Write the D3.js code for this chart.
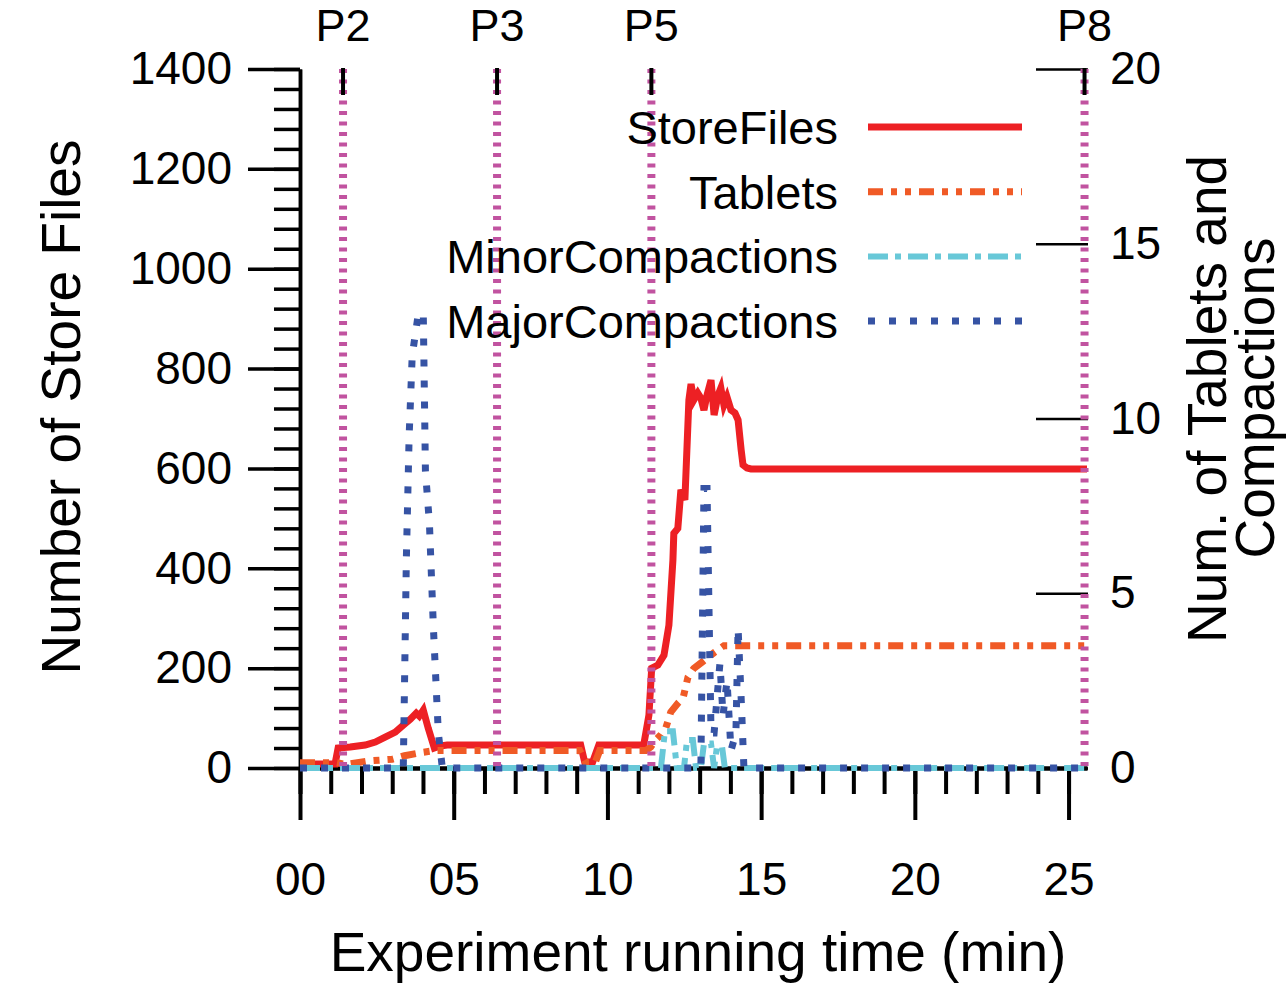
<!DOCTYPE html>
<html lang="en">
<head>
  <meta charset="UTF-8">
  <title>Store files, tablets and compactions</title>
  <script src="https://d3js.org/d3.v7.min.js"></script>
  <style>
    body { margin: 0; background: #fff; }
    text { font-family: "Liberation Sans", Arial, sans-serif; fill: #000; }
  </style>
</head>
<body>
  <script>
    // 1. Data (time in minutes)
    const storeFilesT = [0, 1.14, 1.24, 1.63, 2.12, 2.45, 2.77, 3.10, 3.36, 3.59, 3.78, 3.88, 4.01, 4.17, 4.37, 4.56, 4.79,
                         9.13, 9.26, 9.52, 9.72, 11.18, 11.35, 11.44, 11.64, 11.84, 12.00, 12.13, 12.16, 12.29, 12.39,
                         12.52, 12.65, 12.72, 12.81, 12.94, 13.04, 13.14, 13.24, 13.37, 13.47, 13.60, 13.69, 13.79,
                         13.89, 14.02, 14.15, 14.25, 14.35, 14.41, 14.54, 14.67, 25.6];
    const storeFilesV = [8, 8, 40, 42, 46, 52, 62, 72, 86, 98, 110, 104, 116, 80, 40, 44, 46,
                         46, 12, 12, 46, 46, 106, 200, 206, 226, 286, 416, 470, 480, 557,
                         537, 737, 769, 737, 751, 741, 717, 747, 777, 707, 747, 761, 727,
                         743, 717, 711, 697, 637, 607, 601, 599, 599];

    const tabletsT = [0, 1.2, 1.5, 2.2, 3.0, 3.4, 4.0, 4.4, 9.1, 9.3, 9.6, 9.75, 11.25, 11.41, 11.57, 11.74,
                      11.90, 12.06, 12.29, 12.46, 12.62, 12.81, 13.11, 13.47, 13.79, 25.6];
    const tabletsV = [0.15, 0.15, 0.1, 0.2, 0.25, 0.35, 0.45, 0.5, 0.5, 0.15, 0.15, 0.5, 0.5, 0.6, 0.8, 0.95,
                      1.15, 1.6, 1.85, 2.0, 2.6, 2.85, 3.05, 3.3, 3.5, 3.5];

    const minorT = [0, 11.74, 11.87, 12.13, 12.26, 12.49, 12.59, 12.78, 12.88, 13.04, 13.14, 13.37, 13.47,
                    13.56, 13.73, 13.82, 25.6];
    const minorV = [0, 0, 1.05, 1.05, 0, 0, 0.8, 0.8, 0, 0, 0.7, 0.7, 0, 0.6, 0.6, 0, 0];

    const majorT = [0, 3.36, 3.46, 3.55, 3.65, 3.85, 4.01, 4.08, 4.21, 4.34, 4.50, 4.63,
                    13.04, 13.14, 13.24, 13.37, 13.47, 13.66, 13.76, 13.89, 14.02, 14.18, 14.25, 14.35, 14.44, 25.6];
    const majorV = [0, 0, 6, 9.5, 11.8, 13, 13, 8.5, 7, 4, 1, 0,
                    0, 8, 8, 1, 1, 3, 1.5, 2.5, 0.5, 1, 4, 2, 0, 0];

    const phaseNames = ["P2", "P3", "P5", "P8"];
    const phaseTimes = [1.40, 6.41, 11.43, 25.52];

    const xTicks = [0, 5, 10, 15, 20, 25];
    const xTickLabels = ["00", "05", "10", "15", "20", "25"];
    const leftTicks = [0, 200, 400, 600, 800, 1000, 1200, 1400];
    const rightTicks = [0, 5, 10, 15, 20];

    const seriesNames = ["StoreFiles", "Tablets", "MinorCompactions", "MajorCompactions"];

    // 2. SVG
    const width = 1287, height = 985;
    const svg = d3.select("body").append("svg")
      .attr("width", width)
      .attr("height", height);

    // 3. Scales
    const x = d3.scaleLinear().domain([0, 25.6]).range([300, 1087]);
    const yL = d3.scaleLinear().domain([0, 1400]).range([768, 69]);
    const yR = d3.scaleLinear().domain([0, 20]).range([768, 69]);

    // 4. Axes
    function styleAxis(g, sw, fs) {
      g.attr("font-family", null).attr("font-size", fs);
      g.selectAll("line").attr("stroke", "#000").attr("stroke-width", sw);
      g.selectAll(".domain").attr("stroke", "#000").attr("stroke-width", sw);
      g.selectAll("text").attr("fill", "#000");
    }

    // left minor ticks
    svg.append("g").attr("transform", "translate(300,0)")
      .call(d3.axisLeft(yL).tickValues(d3.range(0, 1401, 40)).tickSize(26).tickSizeOuter(0).tickFormat(""))
      .call(g => styleAxis(g, 3.5, 46));
    svg.append("g").attr("transform", "translate(300,0)")
      .call(d3.axisLeft(yL).tickValues(leftTicks).tickSize(52).tickSizeOuter(0).tickPadding(16)
        .tickFormat(d3.format("d")))
      .call(g => styleAxis(g, 3.5, 46));

    // bottom minor + major
    svg.append("g").attr("transform", "translate(0,768)")
      .call(d3.axisBottom(x).tickValues(d3.range(0, 26, 1)).tickSize(26).tickSizeOuter(0).tickFormat(""))
      .call(g => styleAxis(g, 4, 46));
    svg.append("g").attr("transform", "translate(0,768)")
      .call(d3.axisBottom(x).tickValues(xTicks).tickSize(52).tickSizeOuter(0).tickPadding(42)
        .tickFormat((d, i) => xTickLabels[i]))
      .call(g => styleAxis(g, 4, 46));

    // right axis (ticks inward, labels outside)
    const right = svg.append("g").attr("transform", "translate(1036,0)")
      .call(d3.axisRight(yR).tickValues(rightTicks).tickSize(52).tickPadding(22))
      .call(g => styleAxis(g, 2.5, 46));
    right.select(".domain").remove();

    // 5. Series
    function pts(ts, vs) { return ts.map((t, i) => [t, vs[i]]); }
    const lineL = d3.line().x(d => x(d[0])).y(d => yL(d[1]));
    const lineR = d3.line().x(d => x(d[0])).y(d => yR(d[1]));

    const styles = [
      { color: "#ed2024", dash: null, w: 7 },
      { color: "#f05a26", dash: "15,8,6,8,6,8", w: 7 },
      { color: "#68c8d8", dash: "20,7,6,7", w: 6 },
      { color: "#3653a4", dash: "7,14", w: 7 }
    ];

    svg.append("path").datum(pts(storeFilesT, storeFilesV))
      .attr("fill", "none").attr("stroke", styles[0].color).attr("stroke-width", styles[0].w)
      .attr("d", lineL);
    [[tabletsT, tabletsV], [minorT, minorV], [majorT, majorV]].forEach((s, i) => {
      const st = styles[i + 1];
      svg.append("path").datum(pts(s[0], s[1]))
        .attr("fill", "none").attr("stroke", st.color).attr("stroke-width", st.w)
        .attr("stroke-dasharray", st.dash)
        .attr("d", lineR);
    });

    // 6. Phase markers
    const phases = svg.append("g");
    phaseTimes.forEach((t, i) => {
      phases.append("line")
        .attr("x1", x(t)).attr("x2", x(t)).attr("y1", yL(1400)).attr("y2", yL(0))
        .attr("stroke", "#c153a0").attr("stroke-width", 8).attr("stroke-dasharray", "4,6.5");
      phases.append("line")
        .attr("x1", x(t)).attr("x2", x(t)).attr("y1", yL(1400) - 1).attr("y2", 95)
        .attr("stroke", "#000").attr("stroke-width", 4);
      phases.append("text")
        .attr("x", x(t)).attr("y", 41).attr("text-anchor", "middle")
        .attr("font-size", 45).text(phaseNames[i]);
    });

    // 7. Legend
    const legend = svg.append("g");
    seriesNames.forEach((name, i) => {
      const cy = 127 + i * 64.7;
      legend.append("text")
        .attr("x", 838).attr("y", cy + 17).attr("text-anchor", "end")
        .attr("font-size", 47).text(name);
      legend.append("line")
        .attr("x1", 868).attr("x2", 1022).attr("y1", cy).attr("y2", cy)
        .attr("stroke", styles[i].color).attr("stroke-width", styles[i].w)
        .attr("stroke-dasharray", styles[i].dash);
    });

    // 8. Axis titles
    svg.append("text")
      .attr("transform", "translate(80,407) rotate(-90)")
      .attr("text-anchor", "middle").attr("font-size", 55)
      .text("Number of Store Files");
    svg.append("text")
      .attr("transform", "translate(1226,399) rotate(-90)")
      .attr("text-anchor", "middle").attr("font-size", 55)
      .text("Num. of Tablets and");
    svg.append("text")
      .attr("transform", "translate(1274,398) rotate(-90)")
      .attr("text-anchor", "middle").attr("font-size", 55)
      .text("Compactions");
    svg.append("text")
      .attr("x", 698).attr("y", 971).attr("text-anchor", "middle")
      .attr("font-size", 55)
      .text("Experiment running time (min)");
  </script>
</body>
</html>
